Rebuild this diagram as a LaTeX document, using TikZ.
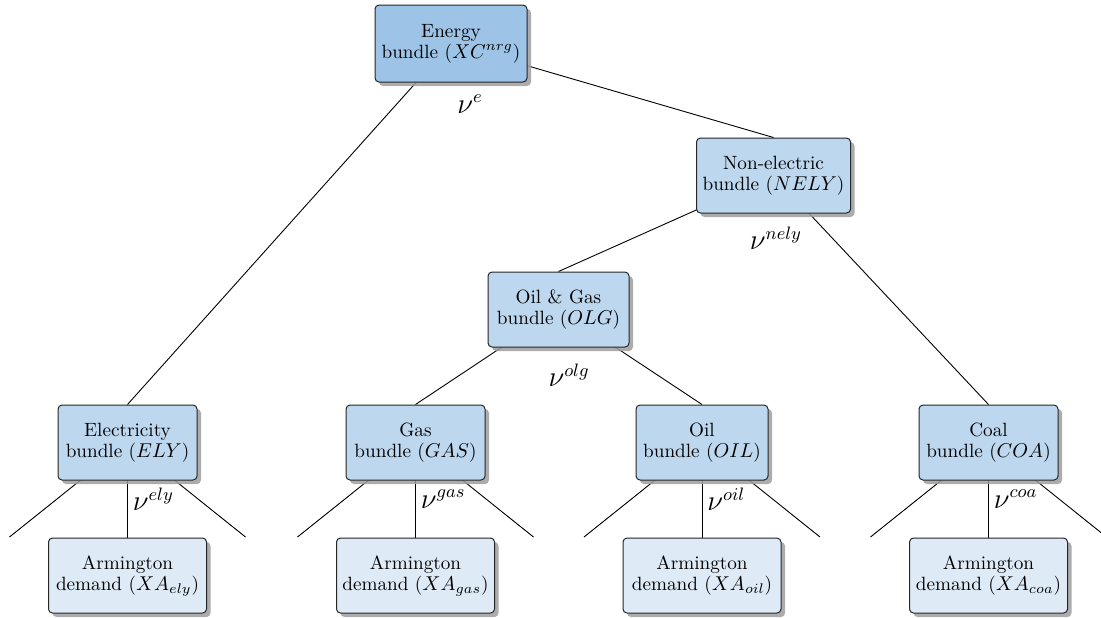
\documentclass[tikz,border=0pt]{standalone}
\usetikzlibrary{shadows,backgrounds}
\definecolor{topfill}{RGB}{157,195,230}
\definecolor{midfill}{RGB}{189,215,238}
\definecolor{leaffill}{RGB}{222,235,247}
\begin{document}
\begin{tikzpicture}[x=0.5pt,y=-0.5pt,
  box/.style={draw=black!85, line width=0.5pt, rounded corners=2pt, align=center,
    inner sep=0pt, font=\fontsize{9.6}{10.5}\selectfont,
    drop shadow={shadow xshift=2pt, shadow yshift=-2pt, fill=black!38, opacity=0.85}},
  topbox/.style={box, fill=topfill},
  midbox/.style={box, fill=midfill, minimum width=69.5pt, minimum height=37.5pt},
  leafbox/.style={box, fill=leaffill, minimum width=79pt, minimum height=37.5pt},
  conn/.style={draw=black, line width=0.45pt},
  lab/.style={inner sep=0pt, font=\fontsize{13.5}{15}\selectfont},
  leaflab/.style={lab, anchor=west}]
\useasboundingbox (0,0) rectangle (1101,617);
\clip (0,0) rectangle (1101,617);

% nodes
\node[topbox, minimum width=76pt, minimum height=38.5pt] (E) at (451,43.5) {Energy\\bundle ($XC^{nrg}$)};
\node[midbox, minimum width=77pt] (N) at (773.5,175.5) {Non-electric\\bundle ($NELY$)};
\node[midbox, minimum width=70.5pt] (O) at (558.5,309.5) {Oil \& Gas\\bundle ($OLG$)};
\node[midbox] (EL) at (127.5,442.5) {Electricity\\bundle ($ELY$)};
\node[midbox] (G) at (415.5,442.5) {Gas\\bundle ($GAS$)};
\node[midbox, minimum width=66pt] (OI) at (702,442.5) {Oil\\bundle ($OIL$)};
\node[midbox] (C) at (988.5,442.5) {Coal\\bundle ($COA$)};
\node[leafbox] (AEL) at (127.5,575.5) {Armington\\demand ($XA_{ely}$)};
\node[leafbox] (AG) at (415.5,575.5) {Armington\\demand ($XA_{gas}$)};
\node[leafbox] (AO) at (702,575.5) {Armington\\demand ($XA_{oil}$)};
\node[leafbox] (AC) at (988.5,575.5) {Armington\\demand ($XA_{coa}$)};

% free ends
\coordinate (ELl) at (9.5,537);   \coordinate (ELr) at (245.5,537);
\coordinate (Gl) at (297.5,537);  \coordinate (Gr) at (533.5,537);
\coordinate (OIl) at (584,537);   \coordinate (OIr) at (820,537);
\coordinate (Cl) at (870.5,537);  \coordinate (Cr) at (1106.5,537);

% connectors behind nodes
\begin{scope}[on background layer]
\draw[conn] (E.center) -- (N.north);
\draw[conn] (E.center) -- (EL.north);
\draw[conn] (N.center) -- (O.north);
\draw[conn] (N.center) -- (C.north);
\draw[conn] (O.center) -- (G.north);
\draw[conn] (O.center) -- (OI.north);
\draw[conn] (EL.center) -- (ELl); \draw[conn] (EL.center) -- (AEL.north); \draw[conn] (EL.center) -- (ELr);
\draw[conn] (G.center) -- (Gl);   \draw[conn] (G.center) -- (AG.north);   \draw[conn] (G.center) -- (Gr);
\draw[conn] (OI.center) -- (OIl); \draw[conn] (OI.center) -- (AO.north);  \draw[conn] (OI.center) -- (OIr);
\draw[conn] (C.center) -- (Cl);   \draw[conn] (C.center) -- (AC.north);   \draw[conn] (C.center) -- (Cr);
\end{scope}

% labels
\node[lab] (le) at (470,104) {$\nu^{e}$};
\node[lab] (lnely) at (776,238) {$\nu^{nely}$};
\node[lab] (lolg) at (569,375) {$\nu^{olg}$};
\node[leaflab] (lely) at (132.5,499) {$\nu^{ely}$};
\node[leaflab] (lgas) at (420.5,499) {$\nu^{gas}$};
\node[leaflab] (loil) at (707,499) {$\nu^{oil}$};
\node[leaflab] (lcoa) at (993.5,499) {$\nu^{coa}$};
\end{tikzpicture}
\end{document}
